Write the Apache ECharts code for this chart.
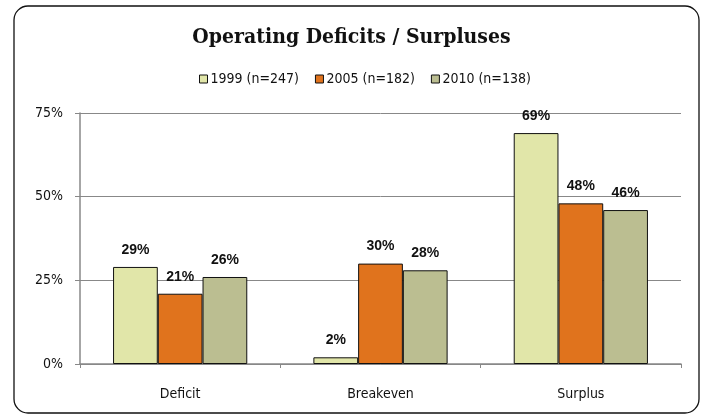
<!DOCTYPE html>
<html>
<head>
<meta charset="utf-8">
<script src="https://cdn.jsdelivr.net/npm/echarts@6/dist/echarts.min.js"></script>
<style>
  html, body { margin: 0; padding: 0; background: #fff; }
  #chart { width: 703px; height: 419px; }
</style>
</head>
<body>
<div id="chart"></div>
<script>
// Operating results by year of survey
const categories = ['Deficit', 'Breakeven', 'Surplus'];
const seriesNames = ['1999 (n=247)', '2005 (n=182)', '2010 (n=138)'];
const values1999 = [29, 2, 69];
const values2005 = [21, 30, 48];
const values2010 = [26, 28, 46];
const yTicks = [0, 25, 50, 75];

const colors = ['#E1E6A9', '#E0731D', '#BBBE91'];
const narrow = '"DejaVu Sans Condensed", "Liberation Sans Narrow", "Arial Narrow", sans-serif';

const chart = echarts.init(document.getElementById('chart'));

function barSeries(name, data, color) {
  return {
    name: name,
    type: 'bar',
    data: data,
    barGap: '0%',
    barCategoryGap: '33%',
    itemStyle: { color: color, borderColor: '#111', borderWidth: 1 },
    label: {
      show: true,
      position: 'top',
      distance: 10,
      formatter: p => p.value + '%',
      fontFamily: 'Liberation Sans, Arial, sans-serif',
      fontWeight: 'bold',
      fontSize: 14,
      color: '#111'
    }
  };
}

chart.setOption({
  animation: false,
  color: colors,
  title: {
    text: 'Operating Deficits / Surpluses',
    left: 'center',
    top: 22,
    textStyle: {
      fontFamily: '"DejaVu Serif Condensed", "DejaVu Serif", serif',
      fontWeight: 'bold',
      fontSize: 21,
      color: '#111'
    }
  },
  legend: {
    top: 67,
    left: 194,
    itemWidth: 8,
    itemHeight: 8,
    itemGap: 16,
    icon: 'rect',
    textStyle: { fontFamily: narrow, fontSize: 14, color: '#111', padding: [0, 0, 0, -2] },
    data: seriesNames.map(n => ({ name: n, itemStyle: { borderColor: '#111', borderWidth: 1 } }))
  },
  grid: { left: 80, right: 22, top: 113, bottom: 55 },
  xAxis: {
    type: 'category',
    data: categories,
    axisLine: { lineStyle: { color: '#888', width: 1.5 } },
    axisTick: { show: true, length: 4, lineStyle: { color: '#888' } },
    axisLabel: { fontFamily: narrow, fontSize: 14, color: '#111', margin: 23 }
  },
  yAxis: {
    type: 'value',
    min: yTicks[0],
    max: yTicks[yTicks.length - 1],
    interval: 25,
    axisLine: { show: true, lineStyle: { color: '#888', width: 1.5 } },
    axisTick: { show: true, length: 5, inside: false, lineStyle: { color: '#888' } },
    splitLine: { lineStyle: { color: '#888', width: 1 } },
    axisLabel: { fontFamily: narrow, fontSize: 14, color: '#111', margin: 17, formatter: v => v + '%' }
  },
  series: [
    barSeries(seriesNames[0], values1999, colors[0]),
    barSeries(seriesNames[1], values2005, colors[1]),
    barSeries(seriesNames[2], values2010, colors[2])
  ],
  graphic: [{
    type: 'rect',
    shape: { x: 14, y: 6, width: 685, height: 407, r: 14 },
    style: { fill: null, stroke: '#111', lineWidth: 1.3 },
    silent: true
  }]
});
</script>
</body>
</html>
